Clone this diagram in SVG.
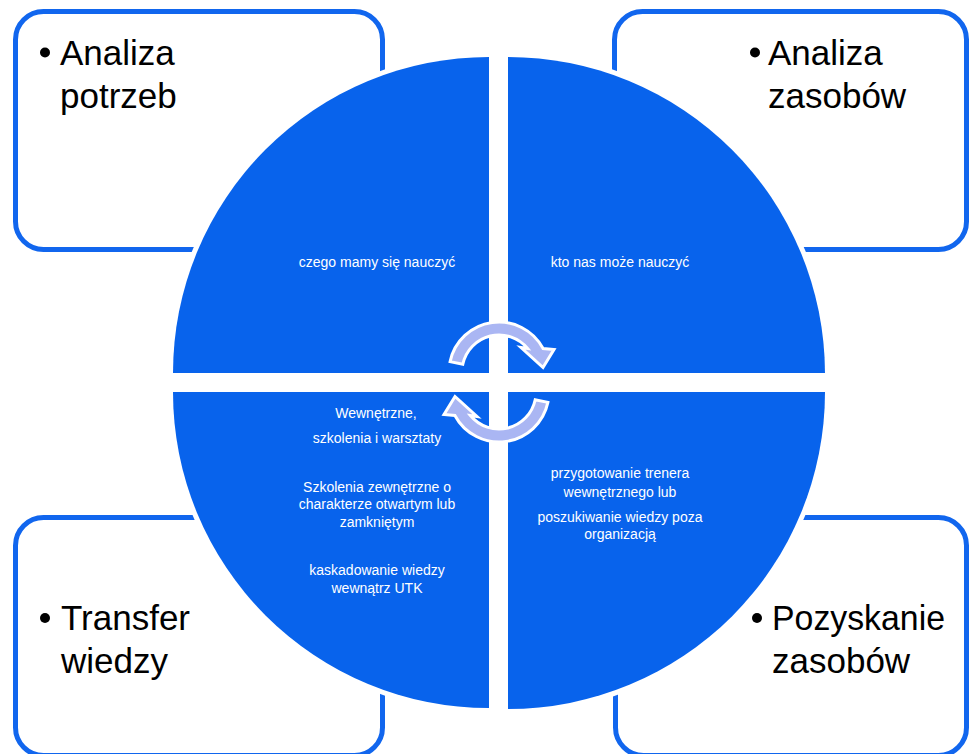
<svg xmlns="http://www.w3.org/2000/svg" xmlns:xlink="http://www.w3.org/1999/xlink" width="971" height="754" viewBox="0 0 971 754">
<style>
.box{fill:#fff;stroke:#1166ee;stroke-width:5}
.q{fill:#0863ec;stroke:#fff;stroke-width:10;paint-order:stroke}
.big{font-family:"Liberation Sans",Arial,sans-serif;font-size:35px;fill:#000}
.sm{font-family:"Liberation Sans",Arial,sans-serif;font-size:14px;fill:#fff;text-anchor:middle}
.arr{fill:#aab6f3;stroke:#fff;stroke-width:3;stroke-linejoin:miter}
</style>
<defs>
<path id="cyc" class="arr" d="M450.1,361.6 A50,50 0 0 1 543.1,348.5 L554,349.5 L543,367.5 L521,347.5 L527.6,348.5 A37,37 0 0 0 462.8,364.3 Z"/>
</defs>
<rect width="971" height="754" fill="#fff"/>
<g id="box-analiza-potrzeb">
<rect class="box" x="15.5" y="11.5" width="367" height="238" rx="28"/>
<circle cx="45" cy="52.5" r="5" fill="#000"/>
<text class="big" x="60" y="65">Analiza</text>
<text class="big" x="60" y="108">potrzeb</text>
</g>
<g id="box-analiza-zasobow">
<rect class="box" x="614.5" y="11.5" width="352" height="238" rx="28"/>
<circle cx="755" cy="52.5" r="5" fill="#000"/>
<text class="big" x="768" y="65">Analiza</text>
<text class="big" x="768" y="108">zasobów</text>
</g>
<g id="box-transfer-wiedzy">
<rect class="box" x="15.5" y="517.5" width="367" height="238" rx="28"/>
<circle cx="45" cy="618" r="5" fill="#000"/>
<text class="big" x="61" y="630">Transfer</text>
<text class="big" x="61" y="673">wiedzy</text>
</g>
<g id="box-pozyskanie-zasobow">
<rect class="box" x="615.5" y="517.5" width="351" height="238" rx="28"/>
<circle cx="757" cy="618" r="5" fill="#000"/>
<text class="big" x="772" y="630" textLength="173" lengthAdjust="spacingAndGlyphs">Pozyskanie</text>
<text class="big" x="772" y="673">zasobów</text>
</g>
<g id="q-top-left">
<path class="q" d="M489,373 L173,373 A316,316 0 0 1 489,57 Z"/>
<text class="sm" x="377" y="267">czego mamy się nauczyć</text>
</g>
<g id="q-top-right">
<path class="q" d="M508,373 L508,57 A317,317 0 0 1 825,373 Z"/>
<text class="sm" x="620" y="267">kto nas może nauczyć</text>
</g>
<g id="q-bottom-left">
<path class="q" d="M489,392 L489,708 A316,316 0 0 1 173,392 Z"/>
<text class="sm" x="376" y="418">Wewnętrzne,</text>
<text class="sm" x="377" y="443">szkolenia i warsztaty</text>
<text class="sm" x="377" y="492">Szkolenia zewnętrzne o</text>
<text class="sm" x="377" y="509">charakterze otwartym lub</text>
<text class="sm" x="377" y="527">zamkniętym</text>
<text class="sm" x="377" y="575">kaskadowanie wiedzy</text>
<text class="sm" x="377" y="593">wewnątrz UTK</text>
</g>
<g id="q-bottom-right">
<path class="q" d="M508,392 L825,392 A317,317 0 0 1 508,709 Z"/>
<text class="sm" x="620" y="478">przygotowanie trenera</text>
<text class="sm" x="620" y="497">wewnętrznego lub</text>
<text class="sm" x="620" y="522">poszukiwanie wiedzy poza</text>
<text class="sm" x="620" y="539">organizacją</text>
</g>
<g id="connectors">
<use xlink:href="#cyc"/>
<use xlink:href="#cyc" transform="rotate(180 499 382)"/>
</g>
</svg>
